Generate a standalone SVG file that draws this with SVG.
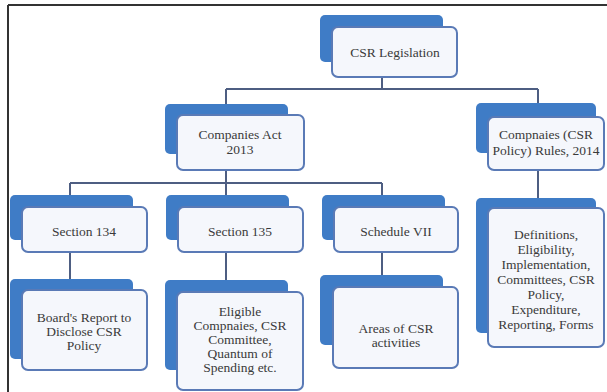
<svg xmlns="http://www.w3.org/2000/svg" width="607" height="392" viewBox="0 0 607 392">
<style>
.back{fill:#3f7cc6;}
.front{fill:#f5f7fc;stroke:#5a7ab6;stroke-width:2;}
.t{font-size:13.5px;fill:#3a3a3a;text-anchor:middle;}
.c{fill:none;stroke:#4e5e82;stroke-width:2;}
</style>
<rect x="0" y="0" width="607" height="392" fill="#ffffff"/>
<path d="M8 5 H607 M8 5 V392" fill="none" stroke="#333" stroke-width="2"/>
<g id="connectors">
<path class="c" d="M382 77 V89 M226 89 H538 M226 89 V104 M538 89 V103"/>
<path class="c" d="M226 170 V183 M70 183 H382 M70 183 V195 M226 183 V195 M382 183 V195"/>
<path class="c" d="M70 252 V279 M226 252 V280 M382 252 V275 M538 170 V198"/>
</g>
<g font-family="Liberation Serif, Times New Roman, serif">
<g id="csr-legislation">
<rect class="back" x="320" y="15" width="123" height="47" rx="5"/>
<rect class="front" x="332" y="27" width="125" height="50" rx="6"/>
<text class="t" x="395" y="57" font-size="14">CSR Legislation</text>
</g>
<g id="companies-act">
<rect class="back" x="165" y="104" width="123" height="50" rx="5"/>
<rect class="front" x="177" y="115" width="127" height="55" rx="6"/>
<text class="t" x="240" y="139">Companies Act</text>
<text class="t" x="240" y="154">2013</text>
</g>
<g id="csr-rules">
<rect class="back" x="476" y="103" width="120" height="50" rx="5"/>
<rect class="front" x="488" y="117" width="116" height="53" rx="6"/>
<text class="t" x="546" y="139">Compnaies (CSR</text>
<text class="t" x="546" y="155">Policy) Rules, 2014</text>
</g>
<g id="section-134">
<rect class="back" x="10" y="195" width="123" height="45" rx="5"/>
<rect class="front" x="22" y="207" width="125" height="45" rx="6"/>
<text class="t" x="84" y="236">Section 134</text>
</g>
<g id="section-135">
<rect class="back" x="166" y="195" width="123" height="45" rx="5"/>
<rect class="front" x="178" y="207" width="125" height="45" rx="6"/>
<text class="t" x="240" y="236">Section 135</text>
</g>
<g id="schedule-vii">
<rect class="back" x="322" y="195" width="123" height="45" rx="5"/>
<rect class="front" x="334" y="207" width="124" height="45" rx="6"/>
<text class="t" x="396" y="236">Schedule VII</text>
</g>
<g id="boards-report">
<rect class="back" x="10" y="279" width="123" height="80" rx="5"/>
<rect class="front" x="22" y="290" width="125" height="80" rx="6"/>
<text class="t" x="84" y="322">Board's Report to</text>
<text class="t" x="84" y="336">Disclose CSR</text>
<text class="t" x="84" y="350">Policy</text>
</g>
<g id="eligible-companies">
<rect class="back" x="165" y="280" width="123" height="90" rx="5"/>
<rect class="front" x="177" y="292" width="126" height="98" rx="6"/>
<text class="t" x="240" y="316">Eligible</text>
<text class="t" x="240" y="330">Compnaies, CSR</text>
<text class="t" x="240" y="344">Committee,</text>
<text class="t" x="240" y="358">Quantum of</text>
<text class="t" x="240" y="372">Spending etc.</text>
</g>
<g id="areas-of-csr">
<rect class="back" x="320" y="275" width="123" height="70" rx="5"/>
<rect class="front" x="333" y="287" width="125" height="81" rx="6"/>
<text class="t" x="396" y="333">Areas of CSR</text>
<text class="t" x="396" y="347">activities</text>
</g>
<g id="rules-details">
<rect class="back" x="476" y="198" width="120" height="135" rx="5"/>
<rect class="front" x="488" y="208" width="116" height="139" rx="6"/>
<text class="t" x="546" y="239">Definitions,</text>
<text class="t" x="546" y="254">Eligibility,</text>
<text class="t" x="546" y="269">Implementation,</text>
<text class="t" x="546" y="284">Committees, CSR</text>
<text class="t" x="546" y="299">Policy,</text>
<text class="t" x="546" y="314">Expenditure,</text>
<text class="t" x="546" y="329">Reporting, Forms</text>
</g>
</g>
</svg>
